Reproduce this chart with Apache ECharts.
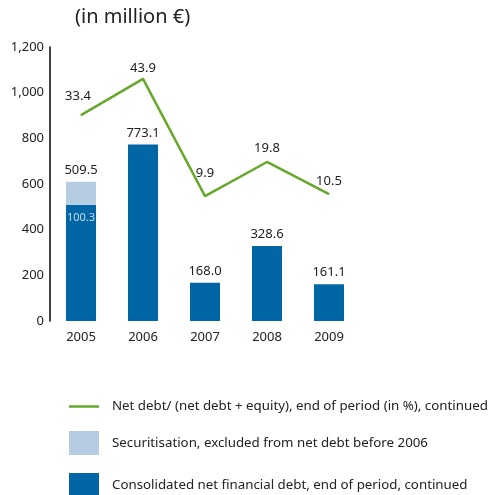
<!DOCTYPE html>
<html>
<head>
<meta charset="utf-8">
<script src="https://cdn.jsdelivr.net/npm/echarts@6/dist/echarts.min.js"></script>
<style>
html, body { margin: 0; padding: 0; background: #fff; }
#chart { width: 490px; height: 495px; }
</style>
</head>
<body>
<div id="chart"></div>
<script>
const years = ["2005", "2006", "2007", "2008", "2009"];
const netDebt = [509.5, 773.1, 168.0, 328.6, 161.1];
const securitisation = [100.3, null, null, null, null];
const gearing = [33.4, 43.9, 9.9, 19.8, 10.5];
const yTicks = [0, 200, 400, 600, 800, 1000, 1200];

const FONT = "Noto Sans";
const LINE_NAME = "Net debt/ (net debt + equity), end of period (in %), continued";
const SEC_NAME = "Securitisation, excluded from net debt before 2006";
const DEBT_NAME = "Consolidated net financial debt, end of period, continued";

// label distances above the line points
const lineLabelDist = [12, 4, 16, 7, 6];

const chart = echarts.init(document.getElementById("chart"));

const option = {
    animation: false,
    textStyle: { fontFamily: FONT },
    title: {
        text: "(in million €)",
        left: 70,
        top: 2,
        textStyle: { fontFamily: FONT, fontSize: 20, fontWeight: "normal", color: "#222" },
    },
    grid: { left: 50, top: 47, width: 310, height: 274 },
    legend: {
        orient: "vertical",
        left: 64,
        top: 395,
        height: 160,
        itemWidth: 30,
        itemHeight: 24,
        itemGap: 18,
        textStyle: { fontFamily: FONT, fontSize: 13.3, color: "#222", padding: [0, 0, 0, 8] },
        data: [
            { name: LINE_NAME, icon: "path://M0,0 H30 V2.5 H0 Z" },
            { name: SEC_NAME, icon: "rect" },
            { name: DEBT_NAME, icon: "rect" },
        ],
    },
    xAxis: {
        type: "category",
        data: years,
        axisLine: { show: false },
        axisTick: { show: false },
        axisLabel: { color: "#222", fontSize: 13, margin: 10 },
    },
    yAxis: [
        {
            type: "value",
            min: yTicks[0],
            max: yTicks[yTicks.length - 1],
            interval: 200,
            axisLine: { show: true, lineStyle: { color: "#000", width: 1.5 } },
            axisTick: { show: false },
            splitLine: { show: false },
            axisLabel: {
                color: "#222",
                fontSize: 13,
                margin: 6,
                formatter: (v) => v.toLocaleString("en-US"),
            },
        },
        {
            type: "value",
            min: -26.35,
            max: 53.17,
            show: false,
            splitLine: { show: false },
        },
    ],
    series: [
        {
            name: DEBT_NAME,
            type: "bar",
            stack: "debt",
            barWidth: 30,
            itemStyle: { color: "#0066a6" },
            data: netDebt.map((v, i) => ({
                value: v,
                label: securitisation[i] != null
                    ? { show: true, position: "insideTop", distance: 8, color: "#c8dcec", fontSize: 11,
                        formatter: () => securitisation[i].toFixed(1) }
                    : { show: true, position: "top", distance: 5, color: "#222", fontSize: 13,
                        formatter: () => v.toFixed(1) },
            })),
        },
        {
            name: SEC_NAME,
            type: "bar",
            stack: "debt",
            barWidth: 30,
            itemStyle: { color: "#b5cce3" },
            data: securitisation.map((v, i) => ({
                value: v,
                label: { show: v != null, position: "top", distance: 5, color: "#222", fontSize: 13,
                    formatter: () => netDebt[i].toFixed(1) },
            })),
        },
        {
            name: LINE_NAME,
            type: "line",
            yAxisIndex: 1,
            symbol: "circle",
            symbolSize: 1,
            showSymbol: true,
            lineStyle: { color: "#66a82a", width: 2.5 },
            itemStyle: { color: "#66a82a" },
            data: gearing.map((v, i) => ({
                value: v,
                label: { show: true, position: "top", distance: lineLabelDist[i], color: "#222", fontSize: 13,
                    offset: i === 0 ? [-3, 0] : [0, 0], formatter: () => v.toFixed(1) },
            })),
        },
    ],
};

chart.setOption(option);
</script>
</body>
</html>
